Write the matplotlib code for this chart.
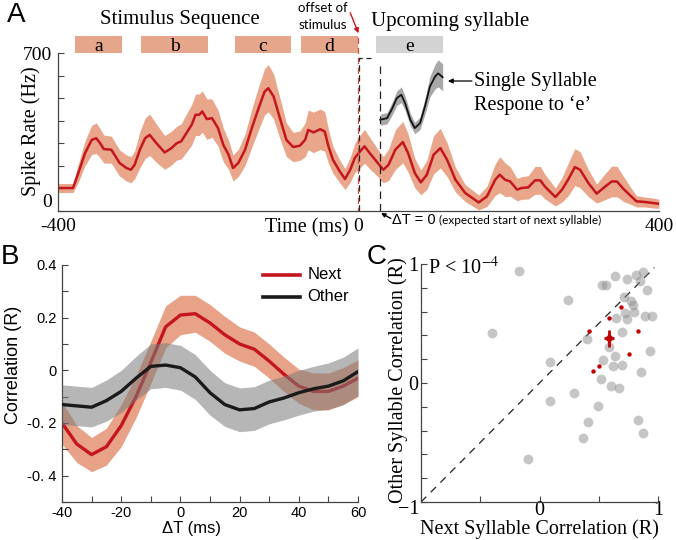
import matplotlib.pyplot as plt
import numpy as np

plt.rcParams['font.family'] = ['Liberation Serif', 'DejaVu Serif']
plt.rcParams['mathtext.fontset'] = 'stix'

SANS = ['Liberation Sans', 'DejaVu Sans']
NOTE_SANS = ['Lato', 'DejaVu Sans']
RED = '#c4161c'
BAND = '#e9a68b'
AX_COL = '#444444'

# ---- panel A: PSTH to the stimulus sequence (time in ms, rate in Hz)
time_ms = [-400, -380, -373, -364, -355, -349, -344, -339, -329, -318, -309, -303, -298,
           -291, -284, -278, -269, -258, -249, -242, -236, -229, -222, -217, -212, -208,
           -202, -195, -187, -180, -173, -167, -160, -151, -142, -133, -125, -120, -113,
           -104, -96, -87, -78, -71, -67, -60, -51, -45, -40, -34, -25, -18, -11, -5, 2,
           8, 15, 24, 33, 40, 49, 59, 66, 75, 83, 91, 100, 109, 118, 129, 142, 160, 171,
           182, 188, 195, 202, 211, 217, 226, 235, 242, 248, 262, 271, 279, 288, 295, 306,
           317, 326, 337, 344, 353, 362, 370, 381, 393, 400]
rate_hz = [102, 102, 168, 257, 316, 323, 301, 275, 272, 213, 191, 183, 205,
           272, 323, 338, 301, 260, 279, 301, 309, 346, 383, 427, 427, 442,
           408, 412, 368, 294, 250, 191, 213, 272, 368, 456, 530, 545, 508,
           405, 316, 284, 290, 316, 360, 349, 363, 353, 287, 227, 176, 142, 183, 235, 264,
           287, 257, 220, 183, 205, 272, 306, 257, 168, 127, 161, 250, 279, 227, 139, 80, 38, 65,
           139, 161, 139, 131, 95, 102, 105, 136, 136, 109, 62, 95, 139, 195, 183, 124,
           77, 102, 131, 131, 97, 68, 43, 40, 35, 32]
rate_err = [20, 20, 40, 55, 65, 68, 65, 62, 60, 58, 58, 58, 62,
            80, 90, 92, 85, 75, 75, 75, 78, 85, 90, 92, 92, 92,
            90, 85, 80, 75, 65, 58, 60, 70, 85, 95, 103, 105, 100,
            90, 75, 65, 65, 75, 88, 90, 90, 88, 75, 60, 50, 47, 55, 65, 72,
            75, 70, 62, 58, 70, 88, 92, 85, 65, 55, 65, 85, 88, 75, 55, 38, 33, 45,
            70, 80, 75, 65, 50, 50, 52, 62, 62, 55, 40, 55, 72, 82, 80, 60,
            42, 55, 68, 68, 55, 38, 25, 22, 22, 20]

# single syllable response to 'e'
single_t = [29, 38, 44, 51, 57, 62, 69, 75, 82, 89, 95, 102, 106, 112]
single_rate = [405, 412, 449, 501, 516, 479, 405, 368, 390, 471, 552, 597, 611, 594]
single_err = [25, 25, 28, 32, 35, 32, 28, 25, 28, 35, 45, 55, 60, 60]

syllables = ['a', 'b', 'c', 'd', 'e']
syl_start = [-377, -290, -165, -76, 23]
syl_end = [-315, -200, -90, -1, 113]

# ---- panel B: correlation vs delta T
delta_t = [-40, -35, -30, -25, -20, -15, -10, -5, 0, 5, 10, 15, 20, 25, 30, 35, 40, 45, 50, 55, 60]
next_r = [-0.20, -0.28, -0.32, -0.29, -0.21, -0.10, 0.03, 0.165, 0.21, 0.215, 0.18, 0.135,
          0.10, 0.08, 0.035, -0.015, -0.06, -0.08, -0.08, -0.06, -0.03]
next_err = [0.08, 0.07, 0.065, 0.07, 0.08, 0.08, 0.08, 0.08, 0.075, 0.07, 0.07, 0.07,
            0.065, 0.065, 0.065, 0.065, 0.065, 0.07, 0.07, 0.07, 0.07]
other_r = [-0.13, -0.135, -0.14, -0.115, -0.08, -0.03, 0.015, 0.02, 0.01, -0.025, -0.085,
           -0.13, -0.15, -0.145, -0.12, -0.105, -0.085, -0.07, -0.06, -0.04, -0.005]
other_err = [0.075, 0.075, 0.075, 0.078, 0.08, 0.083, 0.085, 0.085, 0.085, 0.085, 0.085,
             0.083, 0.083, 0.083, 0.083, 0.083, 0.085, 0.085, 0.088, 0.09, 0.09]

# ---- panel C: next vs other syllable correlation
gray_next = [-0.40, 0.085, 0.09, -0.10, 0.29, 0.40, 0.41, 0.37, 0.49, 0.52, 0.54, 0.585, 0.60,
             0.62, 0.635, 0.675, 0.70, 0.70, 0.645, 0.72, 0.74, 0.80, 0.79, 0.775, 0.89, 0.95,
             0.93, 0.86, 0.83, 0.875, -0.175, 0.24, 0.635, 0.735, 0.815, 0.87, 0.85, 0.53,
             0.56, 0.91, 0.71]
gray_other = [0.42, 0.18, -0.15, -0.64, -0.08, 0.37, -0.33, -0.46, -0.19, 0.03, 0.19, 0.30,
              -0.025, 0.14, 0.23, -0.045, 0.155, 0.43, 0.55, 0.585, 0.535, 0.60, 0.655, 0.69,
              0.56, 0.56, 0.27, 0.09, -0.31, -0.42, 0.94, 0.70, 0.90, 0.87, 0.91, 0.93, 0.86,
              0.82, 0.82, 0.78, 0.72]
red_next = [0.415, 0.59, 0.69, 0.835, 0.755, 0.505, 0.45]
red_other = [0.44, 0.55, 0.64, 0.44, 0.24, 0.145, 0.10]
mean_next, mean_other = 0.585, 0.375
mean_next_err, mean_other_err = 0.04, 0.07

W, H = 676, 540


def fx(x):
    return x / W


def fy(y):
    return 1 - y / H


fig = plt.figure(figsize=(W / 100, H / 100), dpi=100)

# ================= A
axA = fig.add_axes([fx(58), fy(211), 601 / W, 157.7 / H])
t = np.array(time_ms)
r = np.array(rate_hz)
e = np.array(rate_err)
axA.fill_between(t, r - e, r + e, color=BAND, lw=0)
axA.plot(t, r, color=RED, lw=1.8)

st = np.array(single_t)
sr = np.array(single_rate)
se = np.array(single_err)
axA.fill_between(st, sr - se, sr + se, color='#a8a8a8', lw=0)
axA.plot(st, sr, color='#111111', lw=1.3)

for name, s0, s1 in zip(syllables, syl_start, syl_end):
    col = '#d3d3d3' if name == 'e' else '#e6a68c'
    axA.bar((s0 + s1) / 2, 76, width=s1 - s0, bottom=700, color=col, clip_on=False, lw=0)
    axA.text((s0 + s1) / 2, 732, name, ha='center', va='center', fontsize=14)

# dashed markers around stimulus offset / expected next syllable
axA.plot([1, 1, 17], [0, 681, 681], color='#222222', lw=0.9, ls=(0, (5, 3)), clip_on=False)
axA.plot([-1, -1], [0, 775], color='#d24b4b', lw=0.9, ls=(2, (5, 3)), clip_on=False)
axA.plot([28, 28], [0, 657], color='#222222', lw=0.9, ls=(0, (6, 4)), clip_on=False)

axA.set_xlim(-400, 400)
axA.set_ylim(0, 700)
for s in ['top', 'right']:
    axA.spines[s].set_visible(False)
for s in ['left', 'bottom']:
    axA.spines[s].set_color(AX_COL)
    axA.spines[s].set_linewidth(0.9)
axA.set_yticks(range(0, 701, 100))
axA.set_yticklabels(['0', '', '', '', '', '', '', '700'])
axA.tick_params(axis='y', direction='in', length=4, labelsize=14, pad=4, color=AX_COL)
axA.get_yticklabels()[0].set_va('bottom')
axA.set_xticks([-400, 0, 400])
axA.set_xticklabels(['-400', '0', '400'])
axA.tick_params(axis='x', length=0, labelsize=14, pad=5)

axA.text(-238, 848, 'Stimulus Sequence', ha='center', va='center', fontsize=15)
axA.text(122, 840, 'Upcoming syllable', ha='center', va='center', fontsize=15)
axA.text(-48, 900, 'offset of', ha='center', va='center', fontsize=9.5, family=NOTE_SANS)
axA.text(-47, 826, 'stimulus', ha='center', va='center', fontsize=9.5, family=NOTE_SANS)
axA.annotate('', xy=(0, 789), xytext=(-11, 880), annotation_clip=False,
             arrowprops=dict(arrowstyle='-|>', color='#c4161c', lw=1.0, mutation_scale=7,
                             shrinkA=0, shrinkB=0))
axA.annotate('', xy=(119, 577), xytext=(151, 577),
             arrowprops=dict(arrowstyle='-|>', color='k', lw=0.9, mutation_scale=7,
                             shrinkA=0, shrinkB=0))
axA.text(154, 577, 'Single Syllable', ha='left', va='center', fontsize=14.5)
axA.text(154, 470, 'Respone to \u2018e\u2019', ha='left', va='center', fontsize=14.5)
axA.annotate('', xy=(30, -9), xytext=(43, -33), annotation_clip=False,
             arrowprops=dict(arrowstyle='-|>', color='k', lw=1.0, mutation_scale=6,
                             shrinkA=0, shrinkB=0))
dt_txt = axA.text(45, -40, '\u0394T = 0', ha='left', va='center', fontsize=10.5, family=SANS)
axA.annotate('(expected start of next syllable)', xy=(1, 0.45), xycoords=dt_txt,
             xytext=(2.5, 0), textcoords='offset points', ha='left', va='center',
             fontsize=8.5, family=NOTE_SANS)
axA.text(-69, -75, 'Time (ms)', ha='center', va='center', fontsize=14.5)
fig.text(fx(31), fy(131), 'Spike Rate (Hz)', rotation=90, ha='center', va='center', fontsize=14.5)

# ================= B
axB = fig.add_axes([fx(62), fy(502), 296 / W, 237 / H])
dt = np.array(delta_t)
nr, ne = np.array(next_r), np.array(next_err)
orr, oe = np.array(other_r), np.array(other_err)
axB.fill_between(dt, nr - ne, nr + ne, color='#e8a287', lw=0, zorder=1)
axB.plot(dt, nr, color=RED, lw=2.4, zorder=2)
axB.fill_between(dt, orr - oe, orr + oe, color='#7a7a7a', alpha=0.55, lw=0, zorder=3)
axB.plot(dt, orr, color='#1a1a1a', lw=2.4, zorder=4)
axB.set_xlim(-40, 60)
axB.set_ylim(-0.5, 0.4)
for s in ['top', 'right']:
    axB.spines[s].set_visible(False)
for s in ['left', 'bottom']:
    axB.spines[s].set_color(AX_COL)
    axB.spines[s].set_linewidth(0.9)
yt = np.round(np.arange(-0.5, 0.41, 0.1), 1)
ylab_map = {0.4: '0.4', 0.2: '0.2', 0.0: '0', -0.2: '-0. 2', -0.4: '-0. 4'}
axB.set_yticks(yt)
axB.set_yticklabels([ylab_map.get(v, '') for v in yt], family=SANS)
xt = np.arange(-40, 61, 10)
axB.set_xticks(xt)
axB.set_xticklabels([str(v) if v % 20 == 0 else '' for v in xt], family=SANS)
axB.tick_params(direction='in', length=4, labelsize=10.5, color=AX_COL)
axB.tick_params(axis='x', pad=3)
axB.tick_params(axis='y', pad=4)

for lab, col, yy in [('Next', RED, 0.958), ('Other', '#1a1a1a', 0.865)]:
    axB.plot([0.679, 0.804], [yy, yy], color=col, lw=2.6, transform=axB.transAxes, clip_on=False)
    axB.text(0.83, yy, lab, transform=axB.transAxes, ha='left', va='center',
             fontsize=12, family=SANS)
fig.text(fx(14), fy(365), 'Correlation (R)', rotation=90, ha='center', va='center',
         fontsize=13, family=SANS)
fig.text(fx(192), fy(528), '\u0394T (ms)', ha='center', va='center', fontsize=12, family=SANS)

# ================= C
axC = fig.add_axes([fx(421), fy(502), 237 / W, 238 / H])
axC.plot([-1, 0.97], [-1, 0.97], color='#222222', lw=0.9, dashes=(6, 5))
axC.scatter(gray_next, gray_other, s=50, color='#8c8c8c', alpha=0.5, lw=0, zorder=2)
axC.scatter(red_next, red_other, s=10, color='#c00000', lw=0, zorder=3)
axC.errorbar([mean_next], [mean_other], xerr=[mean_next_err], yerr=[mean_other_err],
             fmt='o', ms=4, color='#c00000', elinewidth=2, capsize=0, zorder=4)
axC.set_xlim(-1, 1)
axC.set_ylim(-1, 1)
for s in ['top', 'right']:
    axC.spines[s].set_visible(False)
for s in ['left', 'bottom']:
    axC.spines[s].set_color(AX_COL)
    axC.spines[s].set_linewidth(0.9)
axC.set_xticks([-1, -0.5, 0, 0.5, 1])
axC.set_xticklabels(['', '', '0', '', '1'])
ytc = np.round(np.arange(-1, 1.01, 0.2), 1)
axC.set_yticks(ytc)
axC.set_yticklabels(['0' if v == 0 else ('1' if v == 1 else '') for v in ytc])
axC.tick_params(direction='in', length=4, labelsize=14.5, color=AX_COL)
axC.tick_params(axis='x', pad=-1)
axC.tick_params(axis='y', pad=2)
fig.text(fx(409), fy(510), '\u22121', ha='center', va='center', fontsize=14.5)
axC.text(0.03, 0.983, r'P < 10$^{-4}$', transform=axC.transAxes, ha='left', va='center',
         fontsize=14.5)
fig.text(fx(398), fy(380), 'Other Syllable Correlation (R)', rotation=90, ha='center',
         va='center', fontsize=14.5)
fig.text(fx(539), fy(529), 'Next Syllable Correlation (R)', ha='center', va='center',
         fontsize=14.5)

# panel letters
fig.text(fx(16), fy(15), 'A', ha='center', va='center', fontsize=20, family=SANS)
fig.text(fx(10), fy(257), 'B', ha='center', va='center', fontsize=20, family=SANS)
fig.text(fx(377), fy(257), 'C', ha='center', va='center', fontsize=20, family=SANS)

fig.savefig('out.png', dpi=100)
